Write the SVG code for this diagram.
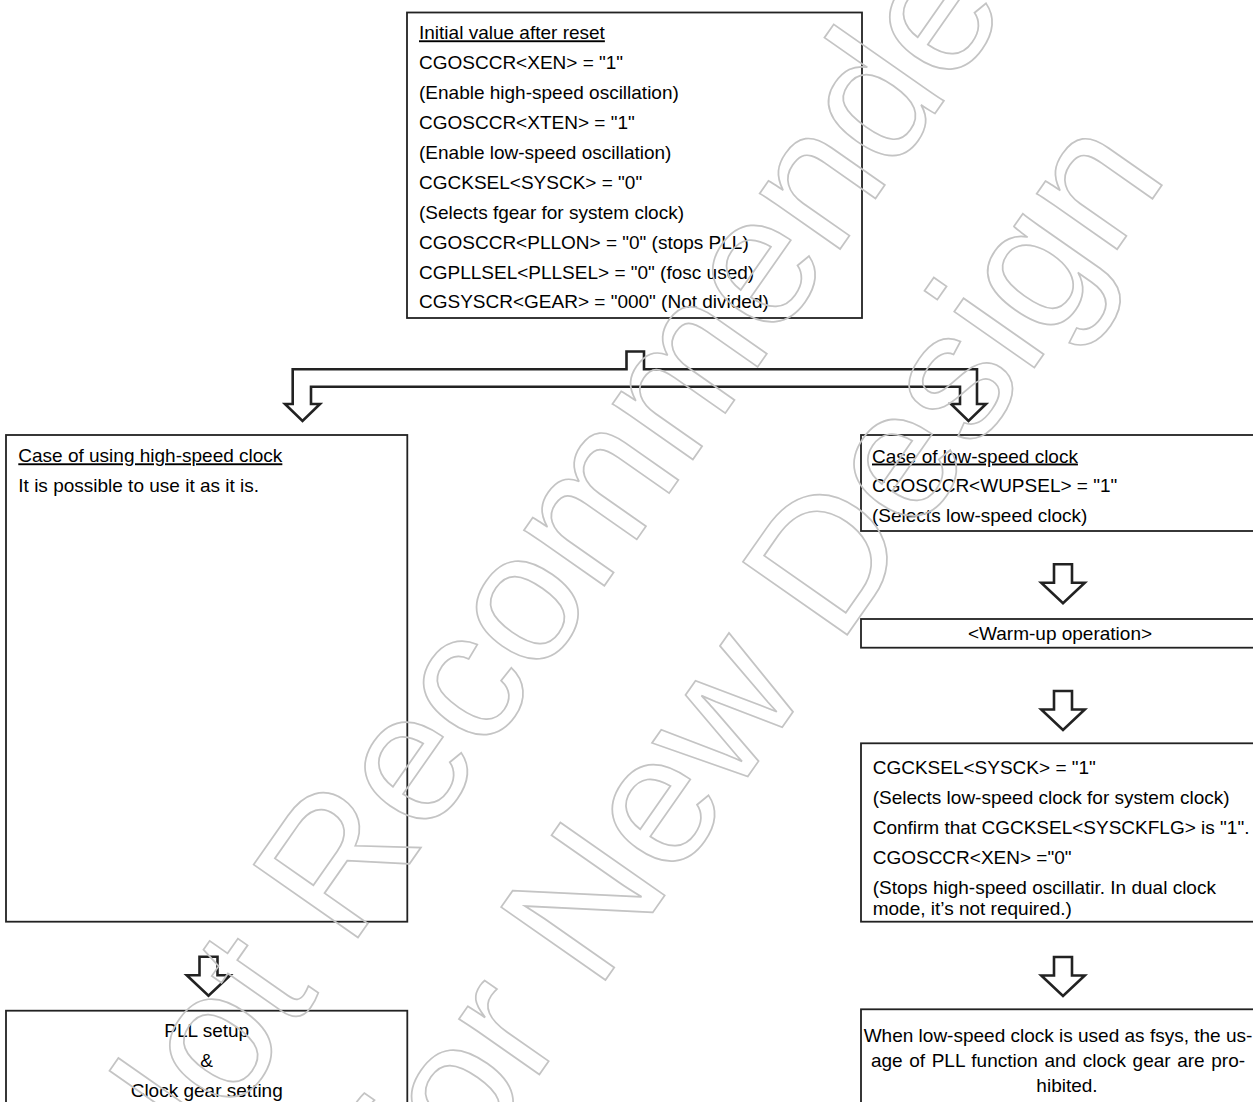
<svg xmlns="http://www.w3.org/2000/svg" width="1253" height="1102" viewBox="0 0 1253 1102">
<style>
.box{fill:none;stroke:#222;stroke-width:1.8}
.arr{fill:none;stroke:#222;stroke-width:2.6;stroke-linejoin:miter}
.t{font-family:"Liberation Sans",Arial,sans-serif;font-size:19px;fill:#000}
.c{text-anchor:middle}
.u{text-decoration:underline}
.wm{font-family:"Liberation Sans",Arial,sans-serif;font-size:185px;fill:none;stroke:#c4c4c4;stroke-width:1.7}
</style>
<defs>
<path id="dn" d="M-9,0 H9 V18.5 H21.75 L0,39 L-21.75,18.5 H-9 Z"/>
</defs>
<rect width="1253" height="1102" fill="#fff"/>

<g id="init">
<rect class="box" x="407" y="12.5" width="455" height="305.5"/>
<text class="t" x="419">
<tspan class="u" x="419" y="39.3">Initial value after reset</tspan>
<tspan x="419" y="69.2">CGOSCCR&lt;XEN&gt; = "1"</tspan>
<tspan x="419" y="99.1">(Enable high-speed oscillation)</tspan>
<tspan x="419" y="129">CGOSCCR&lt;XTEN&gt; = "1"</tspan>
<tspan x="419" y="158.9">(Enable low-speed oscillation)</tspan>
<tspan x="419" y="188.8">CGCKSEL&lt;SYSCK&gt; = "0"</tspan>
<tspan x="419" y="218.7">(Selects fgear for system clock)</tspan>
<tspan x="419" y="248.6">CGOSCCR&lt;PLLON&gt; = "0" (stops PLL)</tspan>
<tspan x="419" y="278.5">CGPLLSEL&lt;PLLSEL&gt; = "0" (fosc used)</tspan>
<tspan x="419" y="308.4">CGSYSCR&lt;GEAR&gt; = "000" (Not divided)</tspan>
</text>
</g>

<g id="high">
<rect class="box" x="6" y="435" width="401.3" height="486.7"/>
<text class="t u" x="18.3" y="462.3">Case of using high-speed clock</text>
<text class="t" x="18.3" y="492">It is possible to use it as it is.</text>
</g>

<g id="pll">
<rect class="box" x="6" y="1010.7" width="401.3" height="110"/>
<text class="t c" x="206.7" y="1037.3">PLL setup</text>
<text class="t c" x="206.7" y="1066.7">&amp;</text>
<text class="t c" x="206.7" y="1096.7">Clock gear setting</text>
</g>

<g id="low">
<rect class="box" x="861" y="435" width="400" height="96"/>
<text class="t u" x="872" y="462.5">Case of low-speed clock</text>
<text class="t" x="872" y="492.4">CGOSCCR&lt;WUPSEL&gt; = "1"</text>
<text class="t" x="872" y="522.3">(Selects low-speed clock)</text>
</g>

<g id="warmup">
<rect class="box" x="861" y="619" width="400" height="28.7"/>
<text class="t c" x="1060" y="640">&lt;Warm-up operation&gt;</text>
</g>

<g id="sysck">
<rect class="box" x="861" y="743.3" width="400" height="178.4"/>
<text class="t" x="872.7" y="774.3">CGCKSEL&lt;SYSCK&gt; = "1"</text>
<text class="t" x="872.7" y="804.2">(Selects low-speed clock for system clock)</text>
<text class="t" x="872.7" y="834.1">Confirm that CGCKSEL&lt;SYSCKFLG&gt; is "1".</text>
<text class="t" x="872.7" y="864">CGOSCCR&lt;XEN&gt; ="0"</text>
<text class="t" x="872.7" y="893.6">(Stops high-speed oscillatir. In dual clock</text>
<text class="t" x="872.7" y="915.2">mode, it’s not required.)</text>
</g>

<g id="prohibit">
<rect class="box" x="861" y="1009.3" width="400" height="110"/>
<text class="t c" x="1058" y="1041.5">When low-speed clock is used as fsys, the us-</text>
<text class="t c" x="1058" y="1066.5" word-spacing="1.3">age of PLL function and clock gear are pro-</text>
<text class="t c" x="1067" y="1091.5">hibited.</text>
</g>

<g id="connectors">
<path class="arr" d="M626.5,351.5 V369.3 H292.7 V404 H285 L302.5,421 L320,404 H311 V386.7 H960 V404 H951 L968.5,421 L986,404 H977 V369.3 H644 V351.5 Z"/>
<use href="#dn" class="arr" transform="translate(1063,564.3)"/>
<use href="#dn" class="arr" transform="translate(1063,691)"/>
<use href="#dn" class="arr" transform="translate(1063,957)"/>
<use href="#dn" class="arr" transform="translate(208.5,956.7)"/>
</g>

<g id="watermark">
<text class="wm" x="154.7" y="1227.9" transform="rotate(-55 154.7 1227.9)">Not Recommended</text>
<text class="wm" x="443.4" y="1211.5" transform="rotate(-55 443.4 1211.5)">for New Design</text>
</g>
</svg>
